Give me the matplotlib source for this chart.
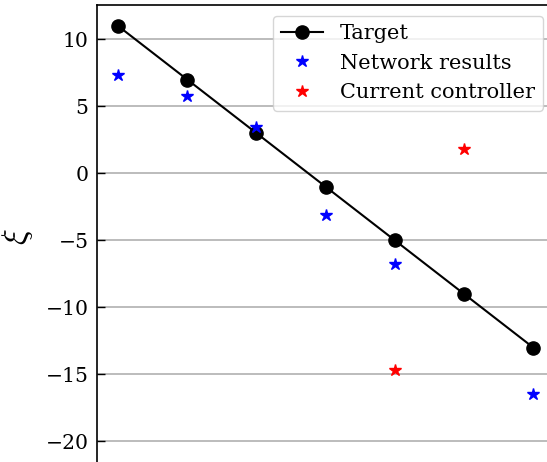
import numpy as np
import matplotlib
matplotlib.use("Agg")
import matplotlib.pyplot as plt

plt.rcParams['font.family'] = ['DejaVu Serif']
plt.rcParams['mathtext.fontset'] = 'cm'

x = [0, 1, 2, 3, 4, 5, 6]
target = [11, 7, 3, -1, -5, -9, -13]
network = [7.3, 5.75, 3.47, -3.1, -6.8, np.nan, -16.5]
controller = [np.nan, np.nan, np.nan, np.nan, -14.65, 1.8, np.nan]
yticks = [-20, -15, -10, -5, 0, 5, 10]

W, H = 547, 462
fig = plt.figure(figsize=(W / 100, H / 100), dpi=100)

# axes mapping measured in pixels
px_per_x = 69.2
px_per_y = 13.4
x0_px = 118.0      # pixel of x=0
y0_px = 173.3      # pixel (from top) of y=0
left_px = 97.0
top_px = 5.0
xlim = (-(x0_px - left_px) / px_per_x, 6.35)
ylim_top = (y0_px - top_px) / px_per_y
ylim_bot = -22.0
width_px = (xlim[1] - xlim[0]) * px_per_x
height_px = (ylim_top - ylim_bot) * px_per_y
bottom_px = top_px + height_px

ax = fig.add_axes([left_px / W, 1 - bottom_px / H, width_px / W, height_px / H])
ax.set_xlim(*xlim)
ax.set_ylim(ylim_bot, ylim_top)

ax.plot(x, target, color='black', marker='o', markersize=9.5, linewidth=1.5, label='Target', zorder=3)
ax.plot(x, network, linestyle='none', marker='*', color='blue', markersize=9, label='Network results', zorder=4)
ax.plot(x, controller, linestyle='none', marker='*', color='red', markersize=9, label='Current controller', zorder=4)

ax.set_yticks(yticks)
ax.set_yticklabels([f"{v}".replace('-', '\u2212') for v in yticks])
ax.tick_params(axis='y', labelsize=14.7, width=1.0, length=5.5, direction='in', pad=6)
ax.set_xticks([])
ax.yaxis.grid(True, color='#b0b0b0', linewidth=1.2)
ax.set_axisbelow(True)
for s in ax.spines.values():
    s.set_linewidth(1.2)
ax.set_ylabel(r'$\xi$', fontsize=24, labelpad=8)

leg = ax.legend(loc='upper right', bbox_to_anchor=(543 / W, 1 - 16 / H),
                bbox_transform=fig.transFigure, borderaxespad=0, fontsize=15,
                handlelength=2.0, framealpha=0.8)

fig.savefig('out.png', dpi=100)
